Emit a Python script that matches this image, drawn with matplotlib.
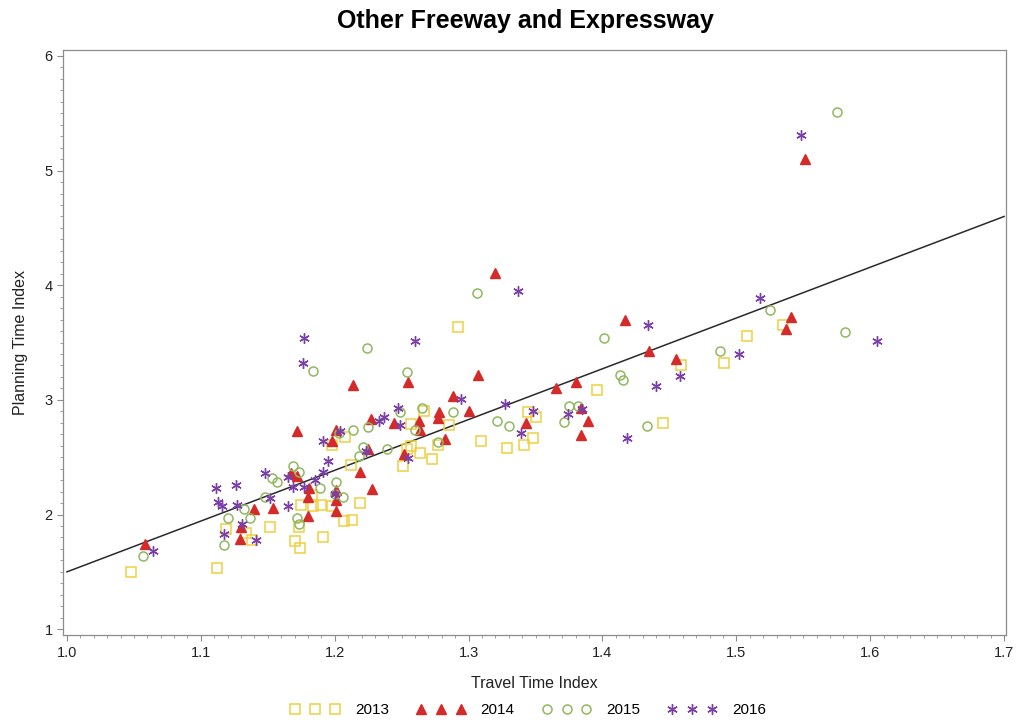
import numpy as np
import matplotlib.pyplot as plt
from matplotlib.ticker import MultipleLocator

plt.rcParams['font.family'] = ['Liberation Sans', 'DejaVu Sans']

# 2013 (squares)
tti_2013 = [1.048, 1.112, 1.119, 1.134, 1.138, 1.152, 1.170, 1.174, 1.173, 1.175,
            1.183, 1.184, 1.190, 1.198, 1.191, 1.207, 1.213, 1.219, 1.212, 1.198,
            1.208, 1.251, 1.254, 1.257, 1.264, 1.273, 1.277, 1.257, 1.267, 1.285,
            1.309, 1.292, 1.329, 1.341, 1.348, 1.344, 1.350, 1.396, 1.445, 1.459,
            1.491, 1.508, 1.535]
pti_2013 = [1.50, 1.53, 1.87, 1.84, 1.78, 1.89, 1.77, 1.71, 1.89, 2.08,
            2.17, 2.07, 2.08, 2.07, 1.80, 1.94, 1.95, 2.10, 2.43, 2.61,
            2.68, 2.42, 2.57, 2.60, 2.54, 2.48, 2.61, 2.79, 2.90, 2.78,
            2.64, 3.64, 2.58, 2.61, 2.67, 2.89, 2.85, 3.09, 2.80, 3.30,
            3.32, 3.56, 3.65]

# 2014 (triangles)
tti_2014 = [1.058, 1.129, 1.130, 1.140, 1.154, 1.167, 1.172, 1.172, 1.181, 1.180,
            1.180, 1.201, 1.201, 1.201, 1.198, 1.201, 1.214, 1.219, 1.228, 1.225,
            1.227, 1.244, 1.252, 1.255, 1.263, 1.264, 1.277, 1.278, 1.282, 1.288,
            1.300, 1.307, 1.320, 1.343, 1.365, 1.380, 1.384, 1.389, 1.384, 1.417,
            1.435, 1.455, 1.541, 1.537, 1.551]
pti_2014 = [1.74, 1.79, 1.89, 2.05, 2.06, 2.36, 2.34, 2.73, 2.23, 2.15,
            1.99, 2.03, 2.13, 2.21, 2.64, 2.74, 3.13, 2.37, 2.22, 2.57,
            2.83, 2.80, 2.53, 3.16, 2.82, 2.74, 2.84, 2.89, 2.66, 3.03,
            2.90, 3.22, 4.11, 2.80, 3.10, 3.16, 2.93, 2.82, 2.69, 3.70,
            3.43, 3.36, 3.72, 3.62, 5.10]

# 2015 (circles)
tti_2015 = [1.057, 1.117, 1.120, 1.132, 1.137, 1.148, 1.153, 1.157, 1.169, 1.173,
            1.172, 1.173, 1.189, 1.201, 1.200, 1.206, 1.203, 1.214, 1.225, 1.221,
            1.218, 1.239, 1.249, 1.265, 1.260, 1.277, 1.288, 1.184, 1.224, 1.254,
            1.306, 1.321, 1.330, 1.375, 1.382, 1.371, 1.401, 1.413, 1.415, 1.433,
            1.488, 1.525, 1.581, 1.575]
pti_2015 = [1.64, 1.73, 1.97, 2.05, 1.97, 2.15, 2.32, 2.28, 2.42, 2.37,
            1.97, 1.92, 2.23, 2.28, 2.18, 2.15, 2.71, 2.74, 2.76, 2.59,
            2.51, 2.57, 2.89, 2.93, 2.74, 2.63, 2.89, 3.25, 3.45, 3.24,
            3.93, 2.82, 2.77, 2.95, 2.95, 2.81, 3.54, 3.22, 3.17, 2.77,
            3.43, 3.78, 3.59, 5.51]

# 2016 (stars)
tti_2016 = [1.064, 1.111, 1.126, 1.113, 1.116, 1.127, 1.131, 1.117, 1.141, 1.148,
            1.152, 1.165, 1.165, 1.169, 1.177, 1.185, 1.191, 1.195, 1.191, 1.200,
            1.204, 1.223, 1.233, 1.237, 1.247, 1.249, 1.255, 1.177, 1.176, 1.260,
            1.294, 1.327, 1.348, 1.339, 1.337, 1.374, 1.385, 1.418, 1.434, 1.440,
            1.458, 1.502, 1.518, 1.605, 1.548]
pti_2016 = [1.68, 2.23, 2.26, 2.11, 2.07, 2.08, 1.92, 1.83, 1.78, 2.36,
            2.14, 2.07, 2.33, 2.24, 2.24, 2.30, 2.37, 2.47, 2.64, 2.18,
            2.73, 2.55, 2.82, 2.85, 2.93, 2.78, 2.49, 3.54, 3.32, 3.51,
            3.01, 2.96, 2.90, 2.71, 3.95, 2.88, 2.92, 2.67, 3.65, 3.12,
            3.21, 3.40, 3.89, 3.51, 5.31]

# fitted line
fit_x = [1.0, 1.7]
fit_y = [1.50, 4.60]

fig = plt.figure(figsize=(10.16, 7.25), dpi=100)
ax = fig.add_axes([0.062, 0.124, 0.928, 0.807])

ax.plot(fit_x, fit_y, color='#2A2A2A', lw=1.1, zorder=1)

ax.plot(tti_2013, pti_2013, ls='none', marker='s', ms=6.5, mfc='none', mec='#F0D040',
        mew=1.1, label='2013', zorder=2)
ax.plot(tti_2014, pti_2014, ls='none', marker='^', ms=7, mfc='#D42A2A', mec='#D42A2A',
        label='2014', zorder=3)
ax.plot(tti_2015, pti_2015, ls='none', marker='o', ms=6.5, mfc='none', mec='#90B860',
        mew=1.1, label='2015', zorder=3)
ax.plot(tti_2016, pti_2016, ls='none', marker=(6, 2, 0), ms=7.5, mec='#7B3FA8',
        mew=1.0, label='2016', zorder=4)

ax.set_xlim(0.997, 1.7013)
ax.set_ylim(0.948, 6.052)
ax.xaxis.set_major_locator(MultipleLocator(0.1))
ax.xaxis.set_minor_locator(MultipleLocator(0.01))
ax.yaxis.set_major_locator(MultipleLocator(1))
ax.yaxis.set_minor_locator(MultipleLocator(0.1))
ax.set_xticklabels([f'{v:.1f}' for v in ax.get_xticks()])

for s in ax.spines.values():
    s.set_color('#8C8C8C')
    s.set_linewidth(0.9)
ax.tick_params(which='major', length=4, color='#8C8C8C', labelsize=10.5, labelcolor='#222222')
ax.tick_params(which='minor', length=2.5, color='#8C8C8C')

ax.set_xlabel('Travel Time Index', fontsize=11.5, color='#222222', labelpad=12)
ax.set_ylabel('Planning Time Index', fontsize=11.5, color='#222222', labelpad=12)
fig.suptitle('Other Freeway and Expressway', fontsize=18, fontweight='bold',
             x=0.517, y=0.988)

fig.legend(loc='lower center', bbox_to_anchor=(0.52, -0.008), ncol=4, numpoints=3,
           frameon=False, fontsize=11, handlelength=3.2, handletextpad=1.0, columnspacing=1.8)

fig.savefig('out.png', dpi=100)
